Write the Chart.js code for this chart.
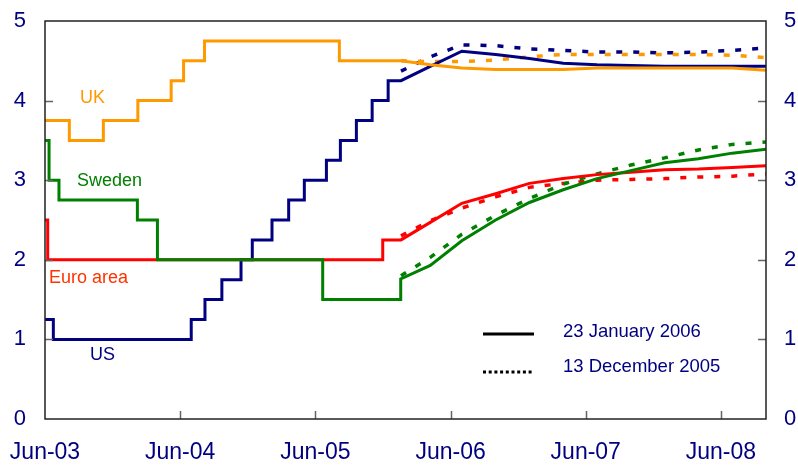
<!DOCTYPE html>
<html>
<head>
<meta charset="utf-8">
<script src="https://cdn.jsdelivr.net/npm/chart.js@4.4.1/dist/chart.umd.min.js"></script>
<style>
  body { margin: 0; background: #fff; }
  #wrap { width: 798px; height: 468px; position: relative; }
</style>
</head>
<body>
<div id="wrap"><canvas id="myChart"></canvas></div>
<script>
//CHART DATA
////////////////////////////////////////////////////////////////////

//x axis is in months counted from Jun-03
var xTickMonths = [0, 12, 24, 36, 48, 60];
var xTickLabels = ["Jun-03", "Jun-04", "Jun-05", "Jun-06", "Jun-07", "Jun-08"];
var yTicks = [0, 1, 2, 3, 4, 5];

//policy rate history: month of each change and the new rate
var ukMonths = [0, 2.16, 5.18, 8.24, 11.2, 12.3, 14.16, 26.13];
var ukRates = [3.75, 3.5, 3.75, 4.0, 4.25, 4.5, 4.75, 4.5];

var swedenMonths = [0, 0.36, 1.24, 8.2, 9.98, 24.65, 31.55];
var swedenRates = [3.5, 3.0, 2.75, 2.5, 2.0, 1.5, 1.75];

var euroMonths = [0, 0.24, 29.98];
var euroRates = [2.5, 2.0, 2.25];

var usMonths = [0, 0.74, 12.98, 14.2, 15.7, 17.4, 18.4, 20.15, 21.63, 23.02, 24.98, 26.22, 27.64, 29.04, 30.46];
var usRates = [1.25, 1.0, 1.25, 1.5, 1.75, 2.0, 2.25, 2.5, 2.75, 3.0, 3.25, 3.5, 3.75, 4.0, 4.25];

//market expectations (forward curves)
var forecastMonths = [31.6, 34.2, 37, 40, 43, 46, 49, 52, 55, 58, 61, 64];

//23 January 2006
var ukJan = [4.5, 4.45, 4.41, 4.39, 4.39, 4.39, 4.41, 4.41, 4.41, 4.41, 4.41, 4.38];
var swedenJan = [1.76, 1.93, 2.24, 2.5, 2.72, 2.88, 3.02, 3.12, 3.22, 3.27, 3.34, 3.39];
var euroJan = [2.25, 2.47, 2.71, 2.83, 2.96, 3.02, 3.07, 3.1, 3.13, 3.14, 3.16, 3.18];
var usJan = [4.25, 4.43, 4.62, 4.58, 4.53, 4.47, 4.45, 4.44, 4.43, 4.43, 4.43, 4.43];

//13 December 2005
var ukDec = [4.5, 4.49, 4.49, 4.51, 4.55, 4.58, 4.58, 4.58, 4.58, 4.58, 4.57, 4.54];
var swedenDec = [1.8, 2.03, 2.32, 2.56, 2.77, 2.95, 3.08, 3.19, 3.28, 3.38, 3.45, 3.48];
var euroDec = [2.3, 2.49, 2.65, 2.79, 2.91, 2.96, 3.0, 3.01, 3.02, 3.04, 3.05, 3.08];
var usDec = [4.37, 4.55, 4.7, 4.69, 4.65, 4.63, 4.61, 4.61, 4.6, 4.61, 4.63, 4.66];

var seriesNames = ["UK", "Sweden", "Euro area", "US"];
var seriesColors = ["#ff9900", "#008000", "#ff0000", "#000080"];

//legend text
var legendLabels = ["23 January 2006", "13 December 2005"];

var textColor = "#000080";
var fontFamily = "Arial, 'Liberation Sans', sans-serif";


//ALL FUNCTIONS
////////////////////////////////////////////////////////////////////

//turn the change dates into step corners, then add the solid forecast
function historyPoints(months, rates, fMonths, fRates) {
    var pts = [];
    for (var i = 0; i < months.length; i++) {
        if (i > 0) {
            pts.push({ x: months[i], y: rates[i - 1] });
        }
        pts.push({ x: months[i], y: rates[i] });
    }
    //the last rate holds until the forecast starts
    for (var j = 0; j < fMonths.length; j++) {
        pts.push({ x: fMonths[j], y: fRates[j] });
    }
    return pts;
}

function curvePoints(fMonths, fRates) {
    var pts = [];
    for (var i = 0; i < fMonths.length; i++) {
        pts.push({ x: fMonths[i], y: fRates[i] });
    }
    return pts;
}

function solidSet(idx, pts) {
    return {
        label: seriesNames[idx],
        data: pts,
        borderColor: seriesColors[idx],
        borderWidth: 3,
        pointRadius: 0,
        tension: 0,
        fill: false
    };
}

function dottedSet(idx, pts) {
    return {
        label: seriesNames[idx] + " Dec",
        data: pts,
        borderColor: seriesColors[idx],
        borderWidth: 3.5,
        borderDash: [6, 11],
        borderCapStyle: "butt",
        pointRadius: 0,
        tension: 0,
        fill: false
    };
}

//frame, inward ticks, series names and the legend
var decorPlugin = {
    id: "decor",
    afterDatasetsDraw: function (chart) {
        var ctx = chart.ctx;
        var area = chart.chartArea;
        var xs = chart.scales.x;
        var ys = chart.scales.y;
        ctx.save();

        //tick marks pointing into the plot
        ctx.strokeStyle = "#666666";
        ctx.lineWidth = 1.5;
        ctx.beginPath();
        for (var i = 1; i < yTicks.length - 1; i++) {
            var py = Math.round(ys.getPixelForValue(yTicks[i])) + 0.5;
            ctx.moveTo(area.left, py);
            ctx.lineTo(area.left + 8, py);
            ctx.moveTo(area.right, py);
            ctx.lineTo(area.right - 8, py);
        }
        for (var k = 1; k < xTickMonths.length; k++) {
            var px = Math.round(xs.getPixelForValue(xTickMonths[k])) + 0.5;
            ctx.moveTo(px, area.bottom);
            ctx.lineTo(px, area.bottom - 8);
        }
        ctx.stroke();

        //plot frame
        ctx.strokeStyle = "#222222";
        ctx.lineWidth = 1.5;
        ctx.strokeRect(area.left, area.top, area.right - area.left, area.bottom - area.top);

        //series names
        ctx.font = "18px " + fontFamily;
        ctx.textBaseline = "middle";
        ctx.textAlign = "left";
        ctx.fillStyle = seriesColors[0];
        ctx.fillText(seriesNames[0], 80, 98);
        ctx.fillStyle = seriesColors[1];
        ctx.fillText(seriesNames[1], 77, 181);
        ctx.fillStyle = "#ff3300";
        ctx.fillText(seriesNames[2], 49, 278);
        ctx.fillStyle = seriesColors[3];
        ctx.fillText(seriesNames[3], 90, 355);

        //legend
        ctx.strokeStyle = "#000000";
        ctx.lineWidth = 3;
        ctx.beginPath();
        ctx.moveTo(483, 334);
        ctx.lineTo(534, 334);
        ctx.stroke();
        ctx.setLineDash([3, 2.7]);
        ctx.beginPath();
        ctx.moveTo(483, 372);
        ctx.lineTo(534, 372);
        ctx.stroke();
        ctx.setLineDash([]);
        ctx.fillStyle = textColor;
        ctx.font = "18.5px " + fontFamily;
        ctx.fillText(legendLabels[0], 563, 332);
        ctx.fillText(legendLabels[1], 563, 367);

        ctx.restore();
    }
};

//stop chart.js from pushing the plot inwards for overhanging labels
function noPadding(scale) {
    scale.paddingLeft = 0;
    scale.paddingRight = 0;
    scale.paddingTop = 0;
    scale.paddingBottom = 0;
}

function displayChart() {
    var datasets = [
        solidSet(0, historyPoints(ukMonths, ukRates, forecastMonths, ukJan)),
        solidSet(1, historyPoints(swedenMonths, swedenRates, forecastMonths, swedenJan)),
        solidSet(2, historyPoints(euroMonths, euroRates, forecastMonths, euroJan)),
        solidSet(3, historyPoints(usMonths, usRates, forecastMonths, usJan)),
        dottedSet(0, curvePoints(forecastMonths, ukDec)),
        dottedSet(1, curvePoints(forecastMonths, swedenDec)),
        dottedSet(2, curvePoints(forecastMonths, euroDec)),
        dottedSet(3, curvePoints(forecastMonths, usDec))
    ];

    var yTickOpts = {
        stepSize: 1,
        color: textColor,
        font: { family: fontFamily, size: 22 }
    };

    new Chart(document.getElementById("myChart"), {
        type: "line",
        data: { datasets: datasets },
        options: {
            responsive: true,
            maintainAspectRatio: false,
            animation: false,
            layout: { padding: { top: 21, left: 0, right: 0, bottom: 0 } },
            plugins: {
                legend: { display: false },
                tooltip: { enabled: false }
            },
            scales: {
                x: {
                    type: "linear",
                    min: 0,
                    max: 64,
                    grid: { display: false, drawTicks: false },
                    border: { display: false },
                    ticks: {
                        stepSize: 12,
                        includeBounds: false,
                        autoSkip: false,
                        maxRotation: 0,
                        padding: 20,
                        color: textColor,
                        font: { family: fontFamily, size: 23 },
                        callback: function (value) {
                            var idx = xTickMonths.indexOf(value);
                            return idx >= 0 ? xTickLabels[idx] : null;
                        }
                    },
                    afterFit: function (scale) {
                        scale.height = 49;
                        noPadding(scale);
                    }
                },
                y: {
                    position: "left",
                    min: 0,
                    max: 5,
                    grid: { display: false, drawTicks: false },
                    border: { display: false },
                    ticks: Object.assign({ padding: 19 }, yTickOpts),
                    afterFit: function (scale) {
                        scale.width = 45;
                        noPadding(scale);
                    }
                },
                y2: {
                    position: "right",
                    min: 0,
                    max: 5,
                    grid: { display: false, drawTicks: false },
                    border: { display: false },
                    ticks: Object.assign({ padding: 18 }, yTickOpts),
                    afterFit: function (scale) {
                        scale.width = 32;
                        noPadding(scale);
                    }
                }
            }
        },
        plugins: [decorPlugin]
    });
}

displayChart();
</script>
</body>
</html>
